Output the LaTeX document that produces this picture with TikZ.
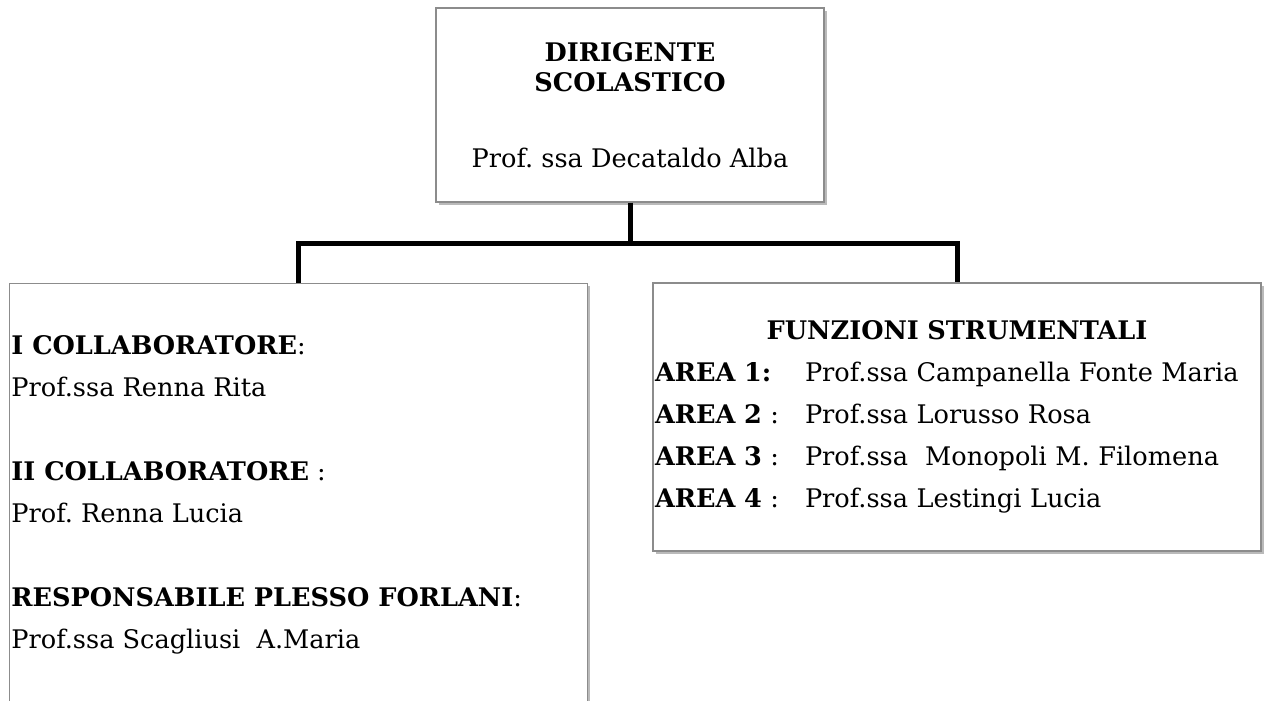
\documentclass[tikz,border=0pt]{standalone}
\usepackage{fontspec}
\setmainfont{DejaVu Serif}
\usepackage{tikz}
\usetikzlibrary{positioning, shadows}
\frenchspacing
\definecolor{bordo}{RGB}{140, 140, 140}
\newcommand{\arearow}[2]{\makebox[75pt][l]{#1}#2}
\tikzset{
    card/.style={rectangle, draw=bordo, fill=white, line width=0.6pt, inner sep=1pt,
                 drop shadow={shadow xshift=1.3pt, shadow yshift=-1.3pt, fill=black!60, opacity=0.45}},
    txt/.style={align=left, inner sep=0pt, font=\fontsize{12.8}{21}\selectfont},
    conn/.style={-, black, line width=2.5pt},
}
\begin{document}
\begin{tikzpicture}[x=0.5pt, y=-0.5pt]
        \path [use as bounding box, clip] (0,0) rectangle (1264,701);

        \node [card, minimum width=194pt, minimum height=97pt, align=center,
               font=\fontsize{12.8}{15}\selectfont] (boss) at (630,105)
              {\textbf{DIRIGENTE}\\\textbf{SCOLASTICO}\\[23pt]Prof. ssa Decataldo Alba};

        \node [card, anchor=north west, minimum width=289pt, minimum height=260pt] (staff) at (9,283) {};
        \node [txt, anchor=north west] (staffTxt) at (11,335)
              {\textbf{I COLLABORATORE}:\\Prof.ssa Renna Rita\\[21pt]%
               \textbf{II COLLABORATORE} :\\Prof. Renna Lucia\\[21pt]%
               \textbf{RESPONSABILE PLESSO FORLANI}:\\Prof.ssa Scagliusi~~A.Maria};

        \node [card, txt, inner xsep=1pt, text width=302pt, minimum height=134pt] (funz) at (957,417)
              {\makebox[\linewidth]{\textbf{FUNZIONI STRUMENTALI}}\\
               \arearow{\textbf{AREA 1:}}{Prof.ssa Campanella Fonte Maria}\\
               \arearow{\textbf{AREA 2} :}{Prof.ssa Lorusso Rosa}\\
               \arearow{\textbf{AREA 3} :}{Prof.ssa~~Monopoli M. Filomena}\\
               \arearow{\textbf{AREA 4} :}{Prof.ssa Lestingi Lucia}};

        \coordinate (fork) at (630,243);
        \draw [conn] (boss.south) -- (fork);
        \draw [conn] (staff.north) |- (fork) -| (funz.north);
    \end{tikzpicture}
\end{document}
